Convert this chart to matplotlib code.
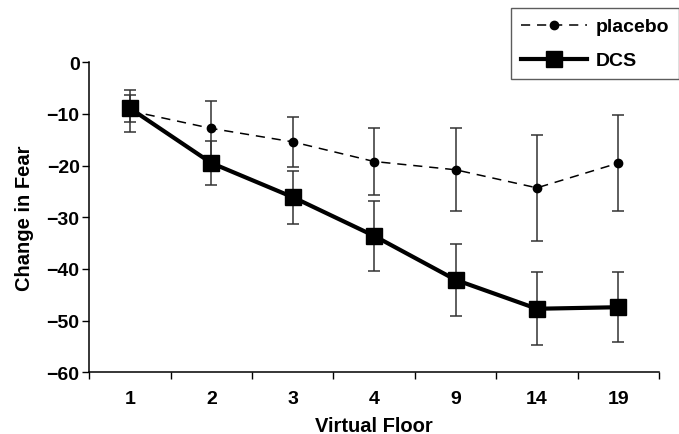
import matplotlib.pyplot as plt
import numpy as np

plt.rcParams['font.family'] = ['Liberation Sans', 'DejaVu Sans']
plt.rcParams['font.weight'] = 'bold'

floors = ['1', '2', '3', '4', '9', '14', '19']
placebo = [-9.4, -12.8, -15.4, -19.2, -20.8, -24.3, -19.5]
placebo_err = [4.0, 5.3, 4.8, 6.4, 8.0, 10.2, 9.3]
dcs = [-8.9, -19.5, -26.1, -33.6, -42.1, -47.7, -47.4]
dcs_err = [2.6, 4.3, 5.1, 6.8, 7.0, 7.1, 6.8]

fig = plt.figure(figsize=(6.79, 4.35), dpi=100)
ax = fig.add_axes([0.1315, 0.1418, 0.8391, 0.7127])

x = np.arange(len(floors))
ax.errorbar(x, placebo, yerr=placebo_err, fmt='none', ecolor='#333333',
            elinewidth=1.1, capsize=4.5, capthick=1.1, zorder=2)
ax.errorbar(x, dcs, yerr=dcs_err, fmt='none', ecolor='#333333',
            elinewidth=1.1, capsize=4.5, capthick=1.1, zorder=2)
ax.plot(x, placebo, color='black', linestyle=(0, (6, 4.5)), linewidth=1.1,
        marker='o', markersize=6, label='placebo', zorder=3)
ax.plot(x, dcs, color='black', linestyle='-', linewidth=3.0,
        marker='s', markersize=11, label='DCS', zorder=4)

ax.set_xlim(-0.5, len(floors) - 0.5)
ax.set_ylim(-60, 0)
ax.set_yticks(np.arange(-60, 1, 10))
ax.set_yticklabels([str(v).replace('-', '\u2212') for v in range(-60, 1, 10)])
ax.set_xticks(x)
ax.set_xticklabels(floors)
ax.set_xticks(np.arange(-0.5, len(floors), 1), minor=True)
ax.tick_params(axis='x', which='major', length=0, pad=13, labelsize=14)
ax.tick_params(axis='x', which='minor', length=5, width=1, direction='out')
ax.tick_params(axis='y', length=5, width=1, direction='out', labelsize=14, pad=2)

for s in ['top', 'right']:
    ax.spines[s].set_visible(False)
for s in ['left', 'bottom']:
    ax.spines[s].set_linewidth(1.1)

ax.set_xlabel('Virtual Floor', fontsize=14.5, fontweight='bold', labelpad=6)
ax.set_ylabel('Change in Fear', fontsize=14.5, fontweight='bold', labelpad=9)

leg = fig.legend(loc='upper right', bbox_to_anchor=(1.0, 1 - 9 / 435),
                 fontsize=14, frameon=True, fancybox=False, handlelength=3.4,
                 borderaxespad=0, borderpad=0.5, labelspacing=0.85,
                 handletextpad=0.45)
leg.get_frame().set_edgecolor('#333333')
leg.get_frame().set_linewidth(1.0)
for t in leg.get_texts():
    t.set_fontweight('bold')

fig.savefig('out.png', dpi=100)
